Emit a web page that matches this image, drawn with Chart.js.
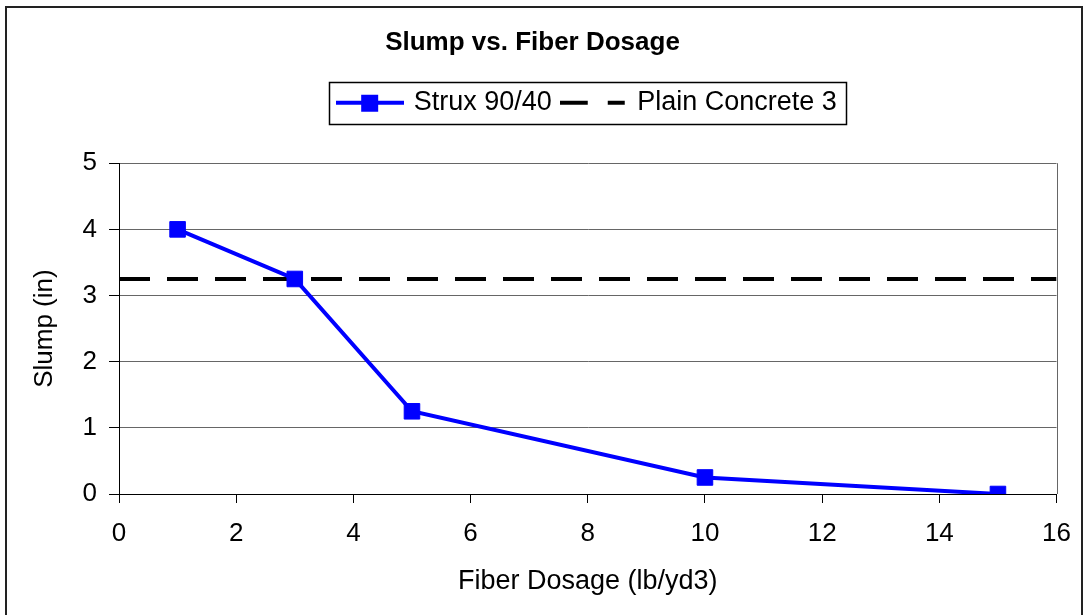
<!DOCTYPE html>
<html>
<head>
<meta charset="utf-8">
<script src="https://cdn.jsdelivr.net/npm/chart.js@4"></script>
<style>
  html, body { margin: 0; padding: 0; background: #fff; }
</style>
</head>
<body>
<canvas id="chart" width="1086" height="615"></canvas>
<script>
// data
const dosage = [1, 3, 5, 10, 15];
const slump = [4, 3.25, 1.25, 0.25, 0];
const plainX = [0, 16];
const plainY = [3.25, 3.25];
const seriesNames = ["Strux 90/40", "Plain Concrete 3"];
const xRange = [0, 16];
const yRange = [0, 5];

const FONT = "'Liberation Sans', Arial, sans-serif";
Chart.defaults.font.family = FONT;
Chart.defaults.color = "#000";

// legend icons
function makeIcon(kind) {
  const c = document.createElement("canvas");
  c.width = 68; c.height = 20;
  const g = c.getContext("2d");
  if (kind === "strux") {
    g.fillStyle = "#0000ff";
    g.fillRect(0, 8, 68, 4);
    g.fillRect(25, 2, 17, 17);
  } else {
    g.fillStyle = "#000";
    g.fillRect(0, 8, 28, 4);
    g.fillRect(48, 8, 17, 4);
  }
  return c;
}
const icons = [makeIcon("strux"), makeIcon("plain")];

const frame = {
  id: "frame",
  beforeUpdate(chart) {
    if (!chart.legend || chart.legend._patched) return;
    const fit = chart.legend.fit;
    chart.legend.fit = function () { fit.call(this); this.height += 37; };
    chart.legend._patched = true;
  },
  afterLayout(chart) {
    chart.legend.left += 56;
    chart.legend.right += 56;
  },
  beforeDraw(chart) {
    const ctx = chart.ctx;
    ctx.save();
    ctx.fillStyle = "#fff";
    ctx.fillRect(0, 0, chart.width, chart.height);
    ctx.strokeStyle = "#222";
    ctx.lineWidth = 2;
    ctx.strokeRect(6, 7, 1076, 640);
    ctx.restore();
  },
  afterDraw(chart) {
    const ctx = chart.ctx;
    const a = chart.chartArea;
    ctx.save();
    ctx.strokeStyle = "#666";
    ctx.lineWidth = 1;
    ctx.beginPath();
    ctx.moveTo(Math.round(a.right) + 0.5, a.top);
    ctx.lineTo(Math.round(a.right) + 0.5, a.bottom);
    ctx.stroke();
    const hb = chart.legend.legendHitBoxes;
    if (hb && hb.length) {
      const first = hb[0], last = hb[hb.length - 1];
      const cy = first.top + first.height / 2;
      const l = first.left - 11, r = last.left + last.width + 9;
      ctx.strokeStyle = "#000";
      ctx.lineWidth = 1.5;
      ctx.strokeRect(Math.round(l) + 0.5, Math.round(cy - 21) + 0.5, Math.round(r - l), 42);
    }
    ctx.restore();
  }
};

new Chart(document.getElementById("chart"), {
  type: "line",
  data: {
    datasets: [
      {
        label: seriesNames[0],
        data: dosage.map((x, i) => ({ x: x, y: slump[i] })),
        borderColor: "#0000ff",
        backgroundColor: "#0000ff",
        borderWidth: 4,
        pointStyle: "rect",
        pointRadius: 11,
        pointBorderWidth: 1,
        pointHoverRadius: 11,
        tension: 0
      },
      {
        label: seriesNames[1],
        data: plainX.map((x, i) => ({ x: x, y: plainY[i] })),
        borderColor: "#000",
        borderWidth: 4,
        borderDash: [31, 17],
        pointRadius: 0,
        tension: 0
      }
    ]
  },
  options: {
    responsive: false,
    animation: false,
    layout: { padding: { top: 8, left: 4, right: 25, bottom: 4 } },
    plugins: {
      title: {
        display: true,
        text: "Slump vs. Fiber Dosage",
        font: { size: 26, weight: "bold" },
        padding: { top: 19, bottom: 19 }
      },
      legend: {
        labels: {
          usePointStyle: true,
          pointStyleWidth: 60,
          padding: 12,
          font: { size: 27 },
          generateLabels: (chart) => chart.data.datasets.map((ds, i) => ({
            text: ds.label,
            pointStyle: icons[i],
            datasetIndex: i,
            hidden: false,
            fontColor: "#000",
            lineWidth: 0,
            strokeStyle: "rgba(0,0,0,0)",
            fillStyle: "rgba(0,0,0,0)"
          }))
        },
        onClick: null
      },
      tooltip: { enabled: false }
    },
    scales: {
      x: {
        type: "linear",
        min: xRange[0],
        max: xRange[1],
        ticks: { stepSize: 2, padding: 15, font: { size: 26 } },
        grid: { drawOnChartArea: false, drawTicks: true, tickLength: 9, tickColor: "#000" },
        border: { color: "#000", width: 1 },
        title: { display: true, text: "Fiber Dosage (lb/yd3)", font: { size: 27 }, padding: { top: 0, bottom: 13 } },
        afterFit(scale) { scale.height = 117; }
      },
      y: {
        min: yRange[0],
        max: yRange[1],
        ticks: { stepSize: 1, padding: 12, font: { size: 26 } },
        grid: { color: "#666", lineWidth: 1, tickLength: 10, tickColor: "#000" },
        border: { color: "#000", width: 1 },
        title: { display: true, text: "Slump (in)", font: { size: 26 }, padding: { top: 25, bottom: 0 } },
        afterFit(scale) { scale.width = 115; }
      }
    }
  },
  plugins: [frame]
});
</script>
</body>
</html>
